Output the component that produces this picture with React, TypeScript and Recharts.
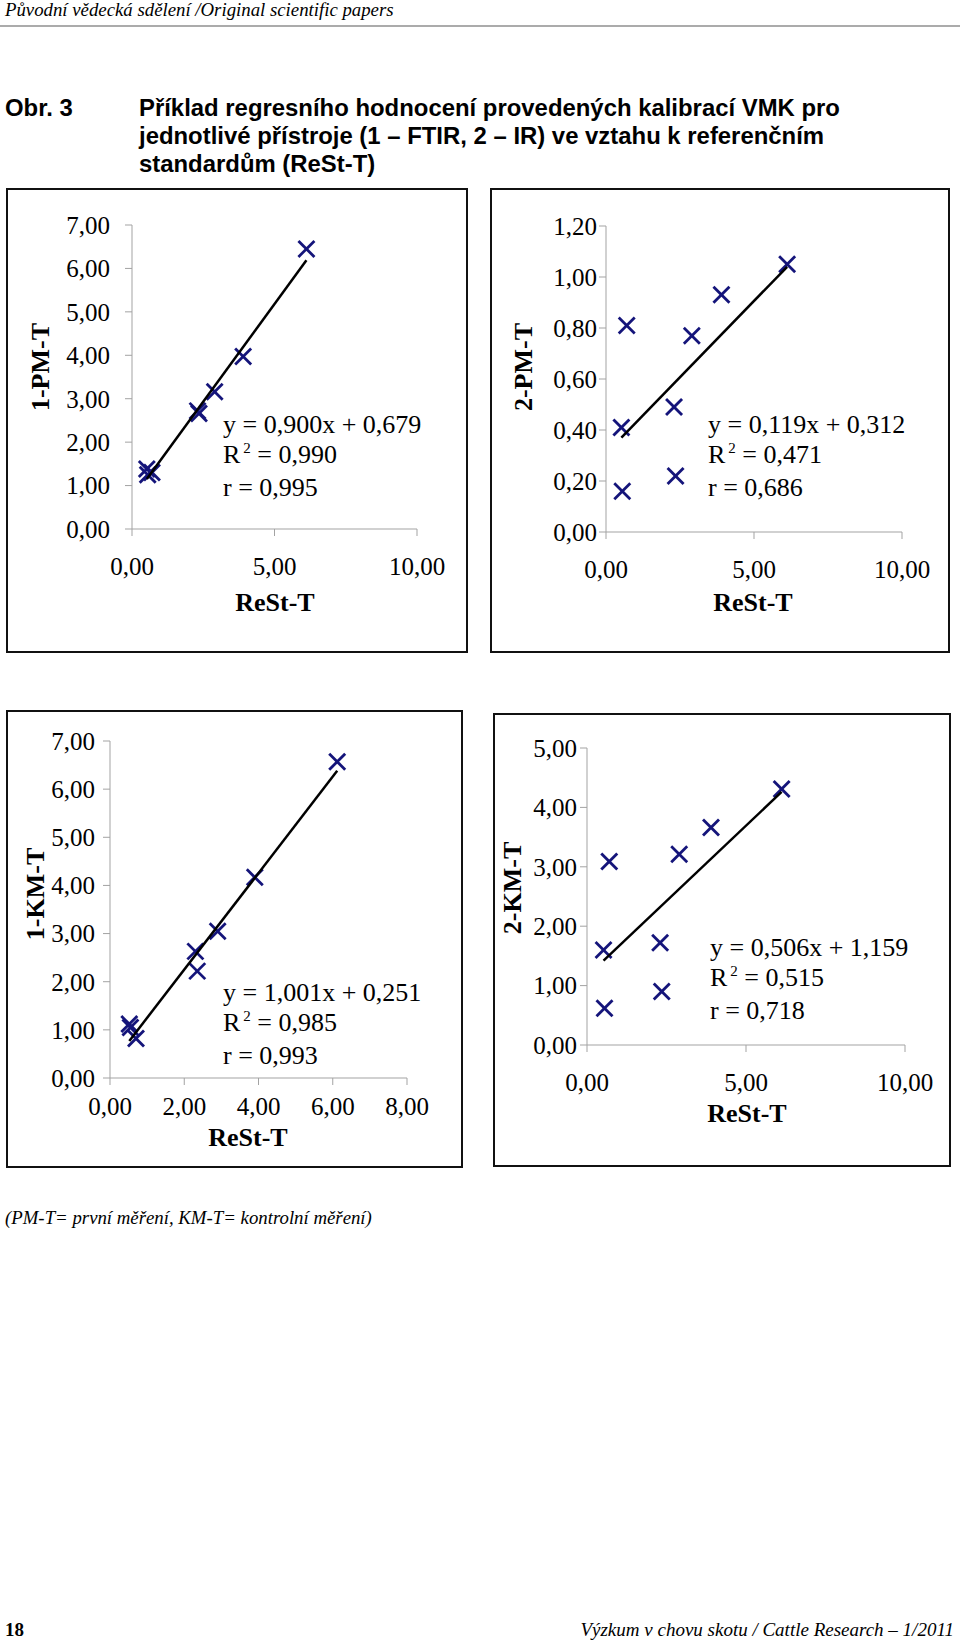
import React from 'react';
import { ScatterChart, Scatter, XAxis, YAxis, Label } from 'recharts';

// ReSt-T (reference) values, same for all four plots
const restT = [0.52, 0.55, 0.7, 2.3, 2.35, 2.9, 3.9, 6.12];

// instrument readings
const pm1 = [1.38, 1.25, 1.3, 2.72, 2.66, 3.16, 3.97, 6.45];
const pm2 = [0.41, 0.16, 0.81, 0.49, 0.22, 0.77, 0.93, 1.05];
const km1 = [1.12, 1.05, 0.82, 2.63, 2.22, 3.05, 4.17, 6.57];
const km2 = [1.6, 0.62, 3.09, 1.72, 0.9, 3.21, 3.66, 4.31];

// trendline ends (x from min to max ReSt-T)
const trendX = [0.52, 6.12];
const trendPM1 = [1.15, 6.19];
const trendPM2 = [0.37, 1.04];
const trendKM1 = [0.77, 6.38];
const trendKM2 = [1.42, 4.26];

// axis ticks
const ticksX10 = [0, 5, 10];
const ticksX8 = [0, 2, 4, 6, 8];
const ticksY7 = [0, 1, 2, 3, 4, 5, 6, 7];
const ticksY12 = [0, 0.2, 0.4, 0.6, 0.8, 1.0, 1.2];
const ticksY5 = [0, 1, 2, 3, 4, 5];

// regression text
const eqPM1 = ['y = 0,900x + 0,679', '0,990', '0,995'];
const eqPM2 = ['y = 0,119x + 0,312', '0,471', '0,686'];
const eqKM1 = ['y = 1,001x + 0,251', '0,985', '0,993'];
const eqKM2 = ['y = 0,506x + 1,159', '0,515', '0,718'];

const SERIF = '"Liberation Serif", "Times New Roman", serif';
const SANS = '"Liberation Sans", Arial, sans-serif';
const NAVY = '#14147a';
const AXIS = '#a3a3a3';

const fmt = (v: number) => v.toFixed(2).replace('.', ',');

const toPoints = (xs: number[], ys: number[]) => xs.map((x, i) => ({ x, y: ys[i] }));

const XMark = (props: any) => {
  const { cx, cy } = props;
  if (cx == null || cy == null) return <g />;
  const s = 8;
  return (
    <g stroke={NAVY} strokeWidth={2.8}>
      <line x1={cx - s} y1={cy - s} x2={cx + s} y2={cy + s} />
      <line x1={cx - s} y1={cy + s} x2={cx + s} y2={cy - s} />
    </g>
  );
};

const NoMark = () => <g />;

function Panel(p: any) {
  const { left, top, width, height, plot } = p;
  const tickStyle = { fill: '#000', fontSize: 25, fontFamily: SERIF };
  const titleStyle: any = { fontSize: 26, fontWeight: 'bold', fontFamily: SERIF, fill: '#000' };
  return (
    <div style={{ position: 'absolute', left, top, width, height }}>
      <ScatterChart
        width={width}
        height={height}
        margin={{ top: plot.top, right: width - plot.right, bottom: 0, left: 0 }}
      >
        <XAxis
          type="number"
          dataKey="x"
          domain={p.xDomain}
          ticks={p.xTicks}
          tickFormatter={fmt}
          height={height - plot.bottom}
          stroke={AXIS}
          tickSize={7}
          tickMargin={p.xTickMargin}
          tick={tickStyle}
          interval={0}
        >
          <Label
            content={() => (
              <text x={p.xTitle[0]} y={p.xTitle[1]} textAnchor="middle" dominantBaseline="central" style={titleStyle}>
                ReSt-T
              </text>
            )}
          />
        </XAxis>
        <YAxis
          type="number"
          dataKey="y"
          domain={p.yDomain}
          ticks={p.yTicks}
          tickFormatter={fmt}
          width={plot.left}
          stroke={AXIS}
          tickSize={7}
          tickMargin={p.yTickMargin}
          tick={tickStyle}
          interval={0}
        >
          <Label
            content={() => (
              <text
                x={p.yTitle[0]}
                y={p.yTitle[1]}
                transform={`rotate(-90 ${p.yTitle[0]} ${p.yTitle[1]})`}
                textAnchor="middle"
                dominantBaseline="central"
                style={titleStyle}
              >
                {p.yName}
              </text>
            )}
          />
        </YAxis>
        <Scatter data={p.points} shape={XMark} isAnimationActive={false} />
        <Scatter
          data={p.trend}
          shape={NoMark}
          line={{ stroke: '#000', strokeWidth: 2.5 }}
          isAnimationActive={false}
        />
      </ScatterChart>
      <div
        style={{
          position: 'absolute',
          left: 0,
          top: 0,
          width,
          height,
          border: '2px solid #111',
          boxSizing: 'border-box',
          pointerEvents: 'none',
        }}
      />
      <div
        style={{
          position: 'absolute',
          left: p.eqAt[0],
          top: p.eqAt[1] - 15,
          fontFamily: SERIF,
          fontSize: 26,
          lineHeight: '29.5px',
          whiteSpace: 'nowrap',
          color: '#000',
        }}
      >
        <div>{p.eq[0]}</div>
        <div>
          R<span style={{ fontSize: 15, position: 'relative', top: -10, marginLeft: 3 }}>2</span> = {p.eq[1]}
        </div>
        <div>r = {p.eq[2]}</div>
      </div>
    </div>
  );
}

export default function App() {
  return (
    <div
      style={{
        position: 'absolute',
        left: 0,
        top: 0,
        width: 960,
        height: 1643,
        background: '#fff',
        overflow: 'hidden',
        fontFamily: SERIF,
        color: '#000',
      }}
    >
      <div style={{ position: 'absolute', left: 5, top: 0, fontSize: 18.8, fontStyle: 'italic', lineHeight: '19px', whiteSpace: 'nowrap' }}>
        Původní vědecká sdělení /Original scientific papers
      </div>
      <div style={{ position: 'absolute', left: 0, top: 25, width: 960, height: 2, background: '#ababab' }} />

      <div style={{ position: 'absolute', left: 5, top: 94, fontFamily: SANS, fontSize: 23.9, fontWeight: 'bold', lineHeight: '28px' }}>
        Obr. 3
      </div>
      <div
        style={{
          position: 'absolute',
          left: 139,
          top: 94,
          fontFamily: SANS,
          fontSize: 23.9,
          fontWeight: 'bold',
          lineHeight: '28px',
          whiteSpace: 'nowrap',
        }}
      >
        Příklad regresního hodnocení provedených kalibrací VMK pro
        <br />
        jednotlivé přístroje (1 – FTIR, 2 – IR) ve vztahu k referenčním
        <br />
        standardům (ReSt-T)
      </div>

      <Panel
        left={6}
        top={188}
        width={462}
        height={465}
        plot={{ left: 126, right: 411, top: 37, bottom: 341 }}
        xDomain={[0, 10]}
        xTicks={ticksX10}
        yDomain={[0, 7]}
        yTicks={ticksY7}
        xTickMargin={21}
        yTickMargin={15}
        points={toPoints(restT, pm1)}
        trend={toPoints(trendX, trendPM1)}
        yName="1-PM-T"
        yTitle={[34, 179]}
        xTitle={[269, 414]}
        eq={eqPM1}
        eqAt={[217, 237]}
      />
      <Panel
        left={490}
        top={188}
        width={460}
        height={465}
        plot={{ left: 116, right: 412, top: 38, bottom: 344 }}
        xDomain={[0, 10]}
        xTicks={ticksX10}
        yDomain={[0, 1.2]}
        yTicks={ticksY12}
        xTickMargin={21}
        yTickMargin={2}
        points={toPoints(restT, pm2)}
        trend={toPoints(trendX, trendPM2)}
        yName="2-PM-T"
        yTitle={[33, 179]}
        xTitle={[263, 414]}
        eq={eqPM2}
        eqAt={[218, 237]}
      />
      <Panel
        left={6}
        top={710}
        width={457}
        height={458}
        plot={{ left: 104, right: 401, top: 31, bottom: 368 }}
        xDomain={[0, 8]}
        xTicks={ticksX8}
        yDomain={[0, 7]}
        yTicks={ticksY7}
        xTickMargin={12}
        yTickMargin={8}
        points={toPoints(restT, km1)}
        trend={toPoints(trendX, trendKM1)}
        yName="1-KM-T"
        yTitle={[29, 184]}
        xTitle={[242, 427]}
        eq={eqKM1}
        eqAt={[217, 283]}
      />
      <Panel
        left={493}
        top={713}
        width={458}
        height={454}
        plot={{ left: 94, right: 412, top: 35, bottom: 332 }}
        xDomain={[0, 10]}
        xTicks={ticksX10}
        yDomain={[0, 5]}
        yTicks={ticksY5}
        xTickMargin={21}
        yTickMargin={3}
        points={toPoints(restT, km2)}
        trend={toPoints(trendX, trendKM2)}
        yName="2-KM-T"
        yTitle={[19, 175]}
        xTitle={[254, 400]}
        eq={eqKM2}
        eqAt={[217, 235]}
      />

      <div style={{ position: 'absolute', left: 5, top: 1207, fontSize: 18.8, fontStyle: 'italic', lineHeight: '22px', whiteSpace: 'nowrap' }}>
        (PM-T= první měření, KM-T= kontrolní měření)
      </div>

      <div style={{ position: 'absolute', left: 5, top: 1619, fontSize: 19, fontWeight: 'bold', lineHeight: '22px' }}>18</div>
      <div
        style={{
          position: 'absolute',
          right: 6,
          top: 1619,
          fontSize: 19,
          fontStyle: 'italic',
          lineHeight: '22px',
          whiteSpace: 'nowrap',
        }}
      >
        Výzkum v chovu skotu / Cattle Research – 1/2011
      </div>
    </div>
  );
}
